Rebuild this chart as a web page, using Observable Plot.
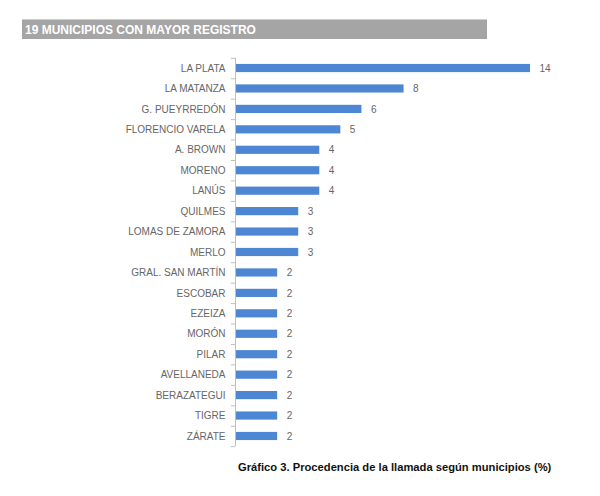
<!DOCTYPE html>
<html><head><meta charset="utf-8">
<script src="https://cdn.jsdelivr.net/npm/d3@7"></script>
<script src="https://cdn.jsdelivr.net/npm/@observablehq/plot@0.6"></script>
<style>
body{margin:0;background:#fff;font-family:"Liberation Sans",Arial,sans-serif;}
#wrap{position:relative;width:600px;height:496px;}
#title{position:absolute;left:22px;top:19px;width:465px;height:20px;background:#a5a5a5;color:#fff;font-weight:bold;font-size:12px;line-height:20px;padding-left:3px;box-sizing:border-box;border-top:1px solid #cfcfcf;}
#chart{position:absolute;left:0;top:48px;}
#caption{position:absolute;left:238px;top:461px;font-weight:bold;font-size:11.2px;color:#111;}
</style></head>
<body><div id="wrap">
<div id="title">19 MUNICIPIOS CON MAYOR REGISTRO</div>
<div id="chart"></div>
<div id="caption">Gráfico 3. Procedencia de la llamada según municipios (%)</div>
</div>
<script>
const municipios = ["LA PLATA","LA MATANZA","G. PUEYRREDÓN","FLORENCIO VARELA","A. BROWN","MORENO","LANÚS","QUILMES","LOMAS DE ZAMORA","MERLO","GRAL. SAN MARTÍN","ESCOBAR","EZEIZA","MORÓN","PILAR","AVELLANEDA","BERAZATEGUI","TIGRE","ZÁRATE"];
const valores = [14,8,6,5,4,4,4,3,3,3,2,2,2,2,2,2,2,2,2];
const data = municipios.map((m,i)=>({municipio:m, valor:valores[i]}));

const H = 410, MT = 9.8, MB = 11.8;
const step = (H - MT - MB) / municipios.length;
const font = '"Liberation Sans", Arial, sans-serif';

const chart = Plot.plot({
  width: 600, height: H,
  marginTop: MT, marginBottom: MB, marginLeft: 235, marginRight: 70,
  style: {fontFamily: font, fontSize: "10px", color: "#666", background: "transparent"},
  x: {domain: [0, 14], range: [235, 530], axis: null},
  y: {domain: municipios, paddingInner: 0.6, paddingOuter: 0.3, round: false, label: null},
  marks: [
    Plot.barX(data, {x: "valor", y: "municipio", fill: "#4d86d2"}),
    Plot.ruleY(municipios, {y: d => d, x1: -0.2, x2: 0, dy: -step/2, stroke: "#bfbfbf"}),
    Plot.ruleY(municipios.slice(-1), {y: d => d, x1: -0.2, x2: 0, dy: step/2, stroke: "#bfbfbf"}),
    Plot.ruleX([0], {stroke: "#bfbfbf"}),
    Plot.axisY({tickSize: 0, tickPadding: 10, fontSize: 10, fill: "#666", label: null}),
    Plot.text(data, {x: "valor", y: "municipio", text: d => String(d.valor), dx: 9, textAnchor: "start", fill: "#666", fontSize: 10})
  ]
});
document.getElementById("chart").append(chart);
</script>
</body></html>
